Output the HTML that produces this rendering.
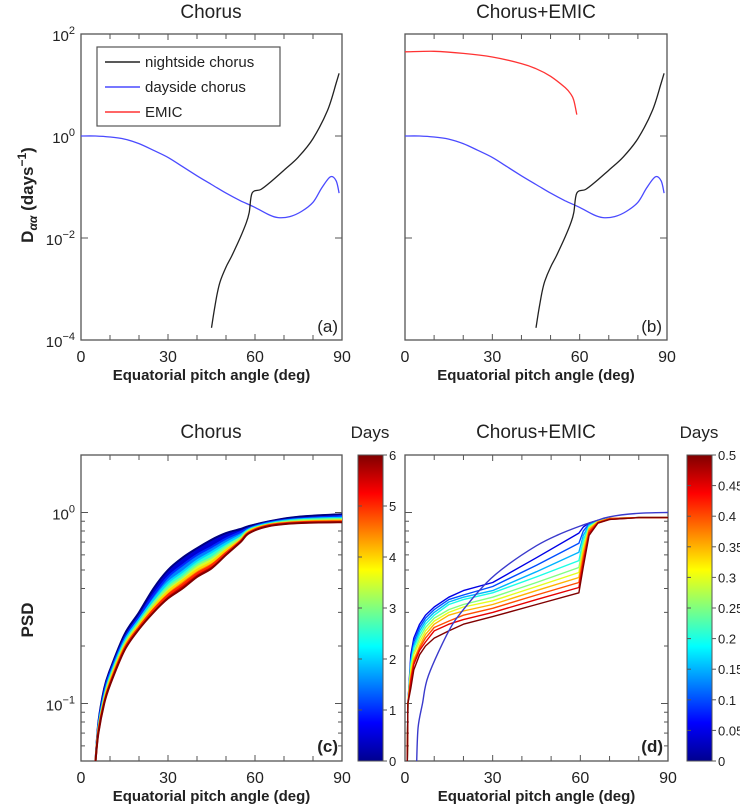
<!DOCTYPE html>
<html><head><meta charset="utf-8"><style>
html,body{margin:0;padding:0;background:#fff;}
svg{display:block;font-family:"Liberation Sans",Arial,sans-serif;}
</style></head><body>
<svg id="fig" width="740" height="805" viewBox="0 0 740 805" xmlns="http://www.w3.org/2000/svg">
<defs>
<linearGradient id="jet" x1="0" y1="1" x2="0" y2="0">
<stop offset="0" stop-color="#00008f"/><stop offset="0.125" stop-color="#0000ff"/><stop offset="0.375" stop-color="#00ffff"/><stop offset="0.625" stop-color="#ffff00"/><stop offset="0.875" stop-color="#ff0000"/><stop offset="1" stop-color="#800000"/>
</linearGradient>
</defs>
</svg>
<script>
// ---- Panel a/b data (log10 of Daa) ----
const dayX = [0,5,10,15,20,25,30,35,40,45,50,55,60,65,68,72,76,80,83,86,88,89];
const dayLog = [0,0.0,-0.02,-0.06,-0.15,-0.28,-0.42,-0.6,-0.78,-0.95,-1.12,-1.27,-1.4,-1.55,-1.6,-1.58,-1.48,-1.3,-1.02,-0.8,-0.88,-1.12];
const nightX = [45,46,47,48,50,52,55,57,58,59,62,65,70,75,80,85,88,89];
const nightLog = [-3.76,-3.4,-3.08,-2.85,-2.57,-2.35,-1.98,-1.7,-1.5,-1.12,-1.05,-0.92,-0.67,-0.41,-0.05,0.5,1.04,1.23];
const emicX = [0,10,20,30,40,45,50,55,57,58,59];
const emicLog = [1.65,1.66,1.62,1.55,1.42,1.32,1.17,0.95,0.82,0.7,0.42];
// ---- Panel c data (PSD, days 0..6) ----
const cX = [5,6,8,10,15,20,25,30,35,40,45,50,55,58,65,75,90];
const cDays = [0,1,2,3,4,5,6];
const cPSD = [
[.05,.08,.12,.15,.23,.30,.40,.50,.58,.65,.72,.78,.82,.85,.90,.95,.98],
[.05,.078,.115,.145,.22,.285,.37,.46,.53,.60,.66,.73,.79,.83,.89,.93,.96],
[.05,.076,.11,.14,.213,.275,.35,.43,.49,.56,.62,.69,.76,.82,.88,.92,.94],
[.05,.074,.107,.136,.206,.266,.335,.405,.46,.53,.58,.66,.74,.81,.87,.91,.925],
[.05,.073,.104,.132,.2,.258,.322,.385,.44,.50,.55,.635,.72,.80,.865,.895,.91],
[.05,.072,.102,.128,.195,.251,.31,.37,.42,.48,.53,.615,.71,.79,.86,.89,.90],
[.05,.07,.10,.125,.19,.245,.30,.355,.40,.46,.51,.60,.70,.78,.85,.88,.89]];
// ---- Panel d data (PSD, days 0..0.5) ----
const d0X = [4,4.5,6,8,15,20,28,35,45,52,60,65,70,80,90];
const d0PSD = [.05,.075,.10,.14,.24,.31,.43,.53,.67,.76,.85,.90,.95,.99,1.0];
const dX = [0.8,1,2,3,5,7,10,15,20,30,45,59.5,61,63,66,70,80,90];
const dDays = [0.05,0.1,0.15,0.2,0.25,0.3,0.35,0.4,0.45,0.5];
const dPSD = [
[.05,.10,.18,.22,.26,.29,.32,.36,.39,.43,.58,.78,.84,.88,.91,.93,.94,.94],
[.05,.10,.17,.21,.25,.28,.31,.35,.37,.41,.53,.69,.80,.87,.91,.93,.94,.94],
[.05,.10,.165,.20,.24,.27,.30,.34,.36,.39,.49,.62,.76,.86,.90,.93,.94,.94],
[.05,.10,.16,.195,.23,.26,.29,.33,.35,.38,.46,.56,.72,.85,.90,.93,.94,.94],
[.05,.10,.155,.185,.22,.25,.28,.31,.33,.36,.43,.515,.68,.84,.90,.93,.94,.94],
[.05,.10,.15,.18,.21,.24,.27,.30,.32,.345,.41,.485,.65,.83,.90,.93,.94,.94],
[.05,.10,.14,.17,.20,.23,.26,.29,.305,.33,.39,.457,.62,.82,.89,.93,.94,.94],
[.05,.10,.135,.165,.195,.22,.25,.27,.29,.315,.37,.43,.58,.80,.89,.93,.94,.94],
[.05,.10,.13,.16,.19,.21,.24,.26,.275,.30,.35,.405,.55,.78,.88,.92,.94,.94],
[.05,.10,.12,.15,.18,.20,.22,.24,.26,.285,.33,.38,.52,.76,.88,.92,.94,.94]];
const xTicks = [0,30,60,90];
const cbTicksC = [0,1,2,3,4,5,6];
const cbTicksD = [0,0.05,0.1,0.15,0.2,0.25,0.3,0.35,0.4,0.45,0.5];

const svg = document.getElementById('fig');
const NS = 'http://www.w3.org/2000/svg';
function mk(tag, attrs, parent){const e=document.createElementNS(NS,tag);for(const k in attrs)e.setAttribute(k,attrs[k]);(parent||svg).appendChild(e);return e;}
function jet(v){const f=(x)=>Math.max(0,Math.min(1,x));const r=f(1.5-Math.abs(4*v-3)),g=f(1.5-Math.abs(4*v-2)),b=f(1.5-Math.abs(4*v-1));return `rgb(${Math.round(r*255)},${Math.round(g*255)},${Math.round(b*255)})`;}

function panel(x0,x1,y0,y1,logMin,logMax){
  return {x:v=>x0+(v/90)*(x1-x0), y:l=>y1-(l-logMin)/(logMax-logMin)*(y1-y0), x0,x1,y0,y1,logMin,logMax};
}
const PA = panel(81,342,34,340,-4,2);
const PB = panel(405,667,34,340,-4,2);
const L2 = Math.log10(2), L05 = Math.log10(0.05);
const PC = panel(81,342,455,761,L05,L2);
const PD = panel(405,668,455,761,L05,L2);

function text(x,y,str,opt,name){const t=mk('text',Object.assign({x,y,'font-size':14,fill:'#222'},opt||{}));t.textContent=str;

return t;}
function pow(x,y,exp,name){
  const t=mk('text',{x,y,'font-size':15,fill:'#222','text-anchor':'end'});
  
  
  const a=document.createElementNS(NS,'tspan');a.textContent='10';t.appendChild(a);
  const b=document.createElementNS(NS,'tspan');b.setAttribute('dy','-7');b.setAttribute('font-size','11');b.textContent=exp;t.appendChild(b);
}
function axes(P,name,yLabels,decades,minor){
  const g=mk('g',{});
  
  
  mk('rect',{x:P.x0,y:P.y0,width:P.x1-P.x0,height:P.y1-P.y0,fill:'none',stroke:'#555','stroke-width':1.3},g);
  for(let d=0;d<=90;d+=10){const X=P.x(d);const len=(d%30===0)?6:5;
    mk('line',{x1:X,y1:P.y1,x2:X,y2:P.y1-len,stroke:'#555'},g);mk('line',{x1:X,y1:P.y0,x2:X,y2:P.y0+len,stroke:'#555'},g);}
  decades.forEach(L=>{const Y=P.y(L);mk('line',{x1:P.x0,y1:Y,x2:P.x0+7,y2:Y,stroke:'#555'},g);mk('line',{x1:P.x1,y1:Y,x2:P.x1-7,y2:Y,stroke:'#555'},g);});
  if(minor){for(let dec=-2;dec<=0;dec++)for(let m=2;m<=9;m++){const L=dec+Math.log10(m);if(L<P.logMin||L>P.logMax)continue;const Y=P.y(L);
    mk('line',{x1:P.x0,y1:Y,x2:P.x0+4,y2:Y,stroke:'#555'},g);mk('line',{x1:P.x1,y1:Y,x2:P.x1-4,y2:Y,stroke:'#555'},g);}}
  xTicks.forEach(v=>text(P.x(v),P.y1+22,String(v),{'text-anchor':'middle','font-size':16},'x-tick-label'));
  text((P.x0+P.x1)/2,P.y1+40,'Equatorial pitch angle (deg)',{'text-anchor':'middle','font-size':15,'font-weight':'bold'},'x-axis-title');
  if(yLabels) decades.forEach(L=>pow(P.x0-6,P.y(L)+7,String(L).replace('-','\u2212'),'y-tick-label'));
}
function pathD(pts,smooth){
  if(!smooth) return pts.map((p,i)=>(i?'L':'M')+p[0].toFixed(1)+','+p[1].toFixed(1)).join('');
  let d='M'+pts[0][0].toFixed(1)+','+pts[0][1].toFixed(1);
  for(let i=0;i<pts.length-1;i++){
    const p0=pts[Math.max(0,i-1)],p1=pts[i],p2=pts[i+1],p3=pts[Math.min(pts.length-1,i+2)];
    const c1=[p1[0]+(p2[0]-p0[0])/6,p1[1]+(p2[1]-p0[1])/6],c2=[p2[0]-(p3[0]-p1[0])/6,p2[1]-(p3[1]-p1[1])/6];
    d+='C'+c1[0].toFixed(1)+','+c1[1].toFixed(1)+' '+c2[0].toFixed(1)+','+c2[1].toFixed(1)+' '+p2[0].toFixed(1)+','+p2[1].toFixed(1);
  }
  return d;
}
function line(P,xs,ys,color,name,w,smooth){
  const pts=xs.map((v,i)=>[P.x(v),P.y(ys[i])]);
  const p=mk('path',{d:pathD(pts,smooth),fill:'none',stroke:color,'stroke-width':w||1.3,'stroke-linejoin':'round'});
  
  
  return p;
}
[['ca',PA],['cb',PB],['cc',PC],['cd',PD]].forEach(([id,P])=>{const cp=mk('clipPath',{id});mk('rect',{x:P.x0,y:P.y0,width:P.x1-P.x0,height:P.y1-P.y0},cp);});

// Panel a
axes(PA,'panel-a-axes',true,[-4,-2,0,2],false);
const ga=mk('g',{'clip-path':'url(#ca)'});
ga.appendChild(line(PA,dayX,dayLog,'#4a4aff','dayside-chorus-a',1.3,true));
ga.appendChild(line(PA,nightX,nightLog,'#222','nightside-chorus-a',1.3,true));
text(338,332,'(a)',{'text-anchor':'end','font-size':17},'panel-label-a');
const lg=mk('g',{});
mk('rect',{x:97,y:47,width:183,height:79,fill:'#fff',stroke:'#555','stroke-width':1.2},lg);
[['nightside chorus','#222',62],['dayside chorus','#4a4aff',87],['EMIC','#ff3333',112]].forEach(([s,c,y])=>{
  const e=mk('line',{x1:105,y1:y,x2:140,y2:y,stroke:c,'stroke-width':1.5},lg);
  
  text(145,y+5,s,{'font-size':15},'legend-entry');});
// Panel b
axes(PB,'panel-b-axes',false,[-4,-2,0,2],false);
const gb=mk('g',{'clip-path':'url(#cb)'});
gb.appendChild(line(PB,dayX,dayLog,'#4a4aff','dayside-chorus-b',1.3,true));
gb.appendChild(line(PB,nightX,nightLog,'#222','nightside-chorus-b',1.3,true));
gb.appendChild(line(PB,emicX,emicLog,'#ff3333','emic-b',1.3,true));
text(662,332,'(b)',{'text-anchor':'end','font-size':17},'panel-label-b');
text(211,18,'Chorus',{'text-anchor':'middle','font-size':19},'title-a');
text(536,18,'Chorus+EMIC',{'text-anchor':'middle','font-size':19},'title-b');
text(211,438,'Chorus',{'text-anchor':'middle','font-size':19},'title-c');
text(536,438,'Chorus+EMIC',{'text-anchor':'middle','font-size':19},'title-d');
const yl=mk('text',{x:0,y:0,'font-size':17,'font-weight':'bold',fill:'#222',transform:'translate(33,195) rotate(-90)','text-anchor':'middle'});

yl.innerHTML='D<tspan dy="4" font-size="12" font-style="italic">αα</tspan><tspan dy="-4"> (days</tspan><tspan dy="-7" font-size="12">−1</tspan><tspan dy="7">)</tspan>';
text(0,0,'PSD',{'font-size':17,'font-weight':'bold',transform:'translate(33,620) rotate(-90)','text-anchor':'middle'},'y-axis-title-c');

// Panel c
const lc=v=>Math.log10(v);
axes(PC,'panel-c-axes',true,[-1,0],true);
const gc=mk('g',{'clip-path':'url(#cc)'});
for(let i=0;i<cPSD.length-1;i++){
  const a=cPSD[i],b=cPSD[i+1];
  const top=cX.map((v,k)=>[PC.x(v),PC.y(lc(a[k]))]);
  const bot=cX.map((v,k)=>[PC.x(v),PC.y(lc(b[k]))]).reverse();
  const d=pathD(top,true)+pathD(bot,true).replace(/^M/,'L')+'Z';
  const col=jet((cDays[i]+cDays[i+1])/2/6);
  const p=mk('path',{d,fill:col,stroke:col,'stroke-width':1.5},gc);
  
}
cPSD.forEach((r,i)=>gc.appendChild(line(PC,cX,r.map(lc),jet(cDays[i]/6),'psd-curve-c',2,true)));
text(338,752,'(c)',{'text-anchor':'end','font-size':17,'font-weight':'bold'},'panel-label-c');

// Panel d
axes(PD,'panel-d-axes',false,[-1,0],true);
const gd=mk('g',{'clip-path':'url(#cd)'});
dPSD.forEach((r,i)=>gd.appendChild(line(PD,dX,r.map(lc),jet(dDays[i]/0.5),'psd-curve-d',1.4,false)));
gd.appendChild(line(PD,d0X,d0PSD.map(lc),'#3a3acc','psd-curve-d-initial',1.4,true));
text(663,752,'(d)',{'text-anchor':'end','font-size':17,'font-weight':'bold'},'panel-label-d');

function cbar(x,ticks,max,name,fmt){
  const g=mk('g',{});
  mk('rect',{x,y:455,width:25,height:306,fill:'url(#jet)',stroke:'#555','stroke-width':1},g);
  ticks.forEach(t=>{const Y=761-t/max*306;mk('line',{x1:x+25,y1:Y,x2:x+29,y2:Y,stroke:'#555'},g);mk('line',{x1:x,y1:Y,x2:x+4,y2:Y,stroke:'#555'},g);
    text(x+31,Y+5,fmt(t),{'font-size':13},'colorbar-tick-label');});
  text(x+12,438,'Days',{'text-anchor':'middle','font-size':17},'colorbar-title');
}
cbar(358,cbTicksC,6,'colorbar-c',t=>String(t));
cbar(687,cbTicksD,0.5,'colorbar-d',t=>String(+t.toFixed(2)));
</script>
</body></html>
